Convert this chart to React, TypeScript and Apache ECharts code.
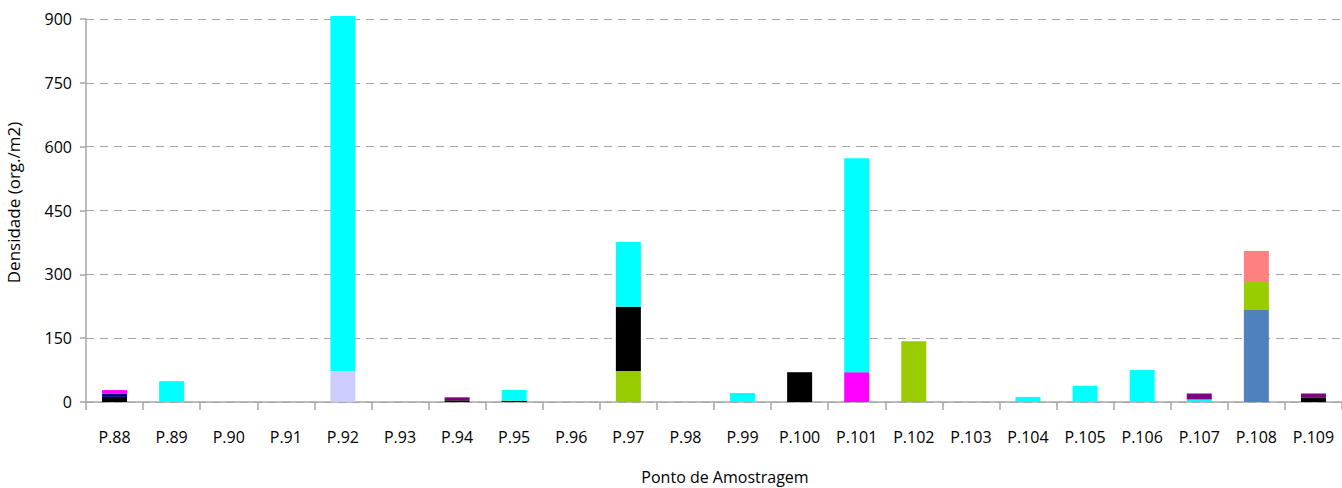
import React, { useEffect, useRef } from "react";
import * as echarts from "echarts";

const categories = ["P.88","P.89","P.90","P.91","P.92","P.93","P.94","P.95","P.96","P.97","P.98","P.99","P.100","P.101","P.102","P.103","P.104","P.105","P.106","P.107","P.108","P.109"];
const yTicks = { min: 0, max: 900, interval: 150 };

// stacked from bottom to top
const grupo1 = [0,0,0,0,0,0,0,0,0,0,0,0,0,0,0,0,0,0,0,0,216,0];      // steel blue
const grupo2 = [0,0,0,0,0,0,0,0,0,73,0,0,0,0,143,0,0,0,0,0,66,0];     // green
const grupo3 = [12,0,0,0,0,0,4,3,0,151,0,0,70,0,0,0,0,0,0,0,0,11];    // black
const grupo4 = [8,0,0,0,0,0,0,0,0,0,0,0,0,0,0,0,0,0,0,0,0,0];         // navy
const grupo5 = [8,0,0,0,0,0,0,0,0,0,0,0,0,70,0,0,0,0,0,0,0,0];        // magenta
const grupo6 = [0,0,0,0,72,0,0,0,0,0,0,0,0,0,0,0,0,0,0,0,0,0];        // lavender
const grupo7 = [0,49,0,0,835,0,0,25,0,152,0,21,0,503,0,0,12,38,75,6,0,0]; // cyan
const grupo8 = [0,0,0,0,0,0,7,0,0,0,0,0,0,0,0,0,0,0,0,14,0,9];        // purple
const grupo9 = [0,0,0,0,0,0,0,0,0,0,0,0,0,0,0,0,0,0,0,0,73,0];        // salmon

const seriesDefs = [
  { name: "Grupo 1", data: grupo1, color: "#4F81BD" },
  { name: "Grupo 2", data: grupo2, color: "#99CC00" },
  { name: "Grupo 3", data: grupo3, color: "#000000" },
  { name: "Grupo 4", data: grupo4, color: "#000080" },
  { name: "Grupo 5", data: grupo5, color: "#FF00FF" },
  { name: "Grupo 6", data: grupo6, color: "#CCCCFF" },
  { name: "Grupo 7", data: grupo7, color: "#00FFFF" },
  { name: "Grupo 8", data: grupo8, color: "#800080" },
  { name: "Grupo 9", data: grupo9, color: "#FF8080" },
];

const FONT = "'Open Sans', 'Liberation Sans', sans-serif";

export default function App() {
  const ref = useRef<HTMLDivElement>(null);
  useEffect(() => {
    if (!ref.current) return;
    const chart = echarts.init(ref.current, undefined, { renderer: "svg" });
    chart.setOption({
      animation: false,
      backgroundColor: "#ffffff",
      grid: { left: 86, right: 0, top: 19, bottom: 86, containLabel: false, outerBoundsMode: "none" },
      xAxis: {
        type: "category",
        data: categories,
        name: "Ponto de Amostragem",
        nameLocation: "middle",
        nameGap: 67,
        nameTextStyle: { fontFamily: FONT, fontSize: 16, color: "#000", padding: [0, 0, 0, 22] },
        axisLine: { lineStyle: { color: "#a6a6a6", width: 1.5 } },
        axisTick: { show: true, alignWithLabel: false, length: 8, lineStyle: { color: "#a6a6a6", width: 1.5 } },
        axisLabel: { fontFamily: FONT, fontSize: 16, color: "#000", margin: 27, interval: 0 },
      },
      yAxis: {
        type: "value",
        min: yTicks.min,
        max: yTicks.max,
        interval: yTicks.interval,
        name: "Densidade (org./m2)",
        nameLocation: "middle",
        nameGap: 64,
        nameRotate: 90,
        nameTextStyle: { fontFamily: FONT, fontSize: 17, color: "#000", padding: [0, 0, 0, 16] },
        axisLine: { show: true, lineStyle: { color: "#a6a6a6", width: 1.5 } },
        axisTick: { show: true, length: 6, lineStyle: { color: "#a6a6a6", width: 1.5 } },
        axisLabel: { fontFamily: FONT, fontSize: 16, color: "#000", margin: 14 },
        splitLine: { show: true, lineStyle: { color: "#a6a6a6", type: [8, 6], width: 1.2 } },
      },
      series: seriesDefs.map((s) => ({
        name: s.name,
        type: "bar",
        stack: "total",
        barWidth: 25,
        clip: false,
        data: s.data,
        itemStyle: { color: s.color },
      })),
    });
    return () => chart.dispose();
  }, []);
  return <div ref={ref} style={{ position: "fixed", left: 0, top: 0, width: 1342, height: 488 }} />;
}
